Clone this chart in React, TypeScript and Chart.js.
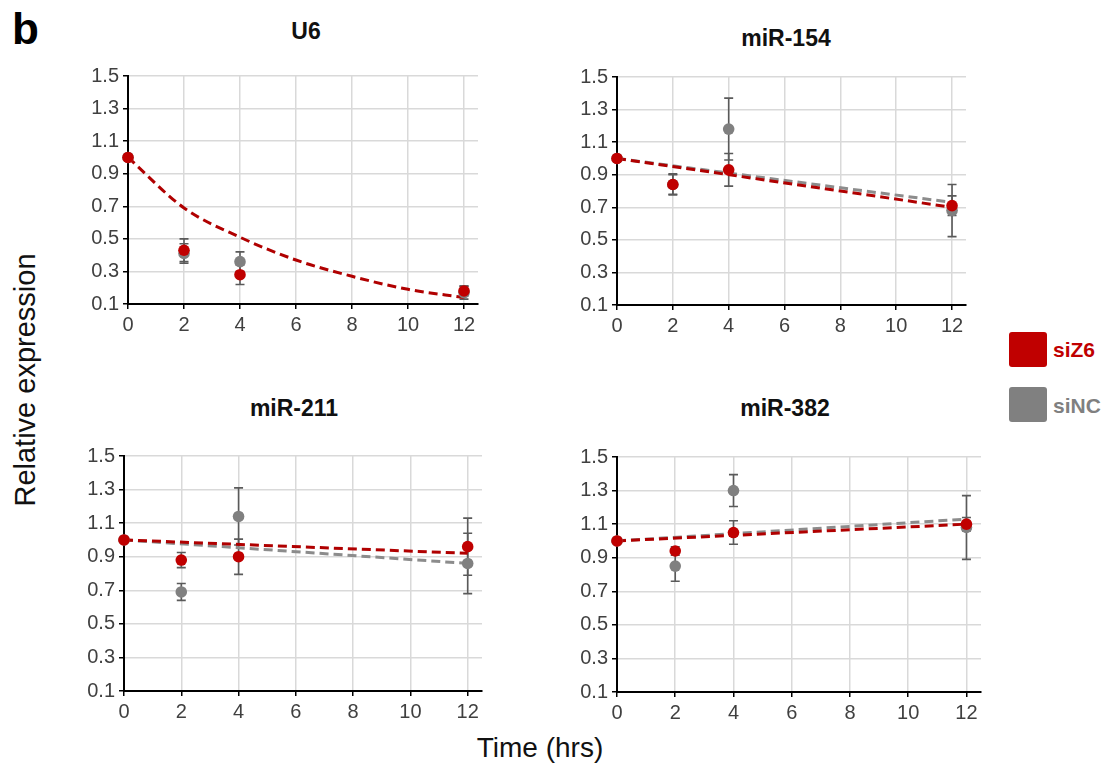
import React, { useEffect, useRef } from "react";
import { Chart, registerables } from "chart.js";
Chart.register(...registerables);

// ---------- data ----------
const times = [0, 2, 4, 12];
const xTicks = [0, 2, 4, 6, 8, 10, 12];
const yTicks = [0.1, 0.3, 0.5, 0.7, 0.9, 1.1, 1.3, 1.5];
const seriesNames = ["siZ6", "siNC"];
const panelTitles = ["U6", "miR-154", "miR-211", "miR-382"];

const u6SiZ6 = [1.0, 0.43, 0.28, 0.18];
const u6SiZ6Err = [0, 0.07, 0.06, 0.03];
const u6SiNC = [1.0, 0.41, 0.36, 0.17];
const u6SiNCErr = [0, 0.06, 0.06, 0.04];
const u6TrendX = [0, 2, 4, 6, 8, 10, 12];
const u6TrendSiZ6 = [1.0, 0.69, 0.51, 0.37, 0.27, 0.19, 0.14];
const u6TrendSiNC: number[] = [];

const m154SiZ6 = [1.0, 0.84, 0.93, 0.71];
const m154SiZ6Err = [0, 0.065, 0.1, 0.06];
const m154SiNC = [1.0, 0.84, 1.18, 0.68];
const m154SiNCErr = [0, 0.06, 0.19, 0.16];
const m154TrendX = [0, 12];
const m154TrendSiZ6 = [1.0, 0.7];
const m154TrendSiNC = [1.0, 0.73];

const m211SiZ6 = [1.0, 0.88, 0.9, 0.96];
const m211SiZ6Err = [0, 0.045, 0.105, 0.17];
const m211SiNC = [1.0, 0.69, 1.14, 0.86];
const m211SiNCErr = [0, 0.05, 0.17, 0.18];
const m211TrendX = [0, 12];
const m211TrendSiZ6 = [1.0, 0.92];
const m211TrendSiNC = [1.0, 0.86];

const m382SiZ6 = [1.0, 0.94, 1.05, 1.1];
const m382SiZ6Err = [0, 0.025, 0.07, 0.04];
const m382SiNC = [1.0, 0.85, 1.3, 1.08];
const m382SiNCErr = [0, 0.09, 0.095, 0.19];
const m382TrendX = [0, 12];
const m382TrendSiZ6 = [1.0, 1.1];
const m382TrendSiNC = [1.0, 1.13];

// ---------- styles / layout ----------
const FONT = "'Liberation Sans', Arial, Helvetica, sans-serif";
const RED = "#c00000";
const RED_TREND = "#b00000";
const GRAY = "#808080";
const GRAY_TREND = "#8c8c8c";
const ERR = "#5a5a5a";
const Y_W = 50;
const X_H = 40;
const PAD_T = 14;
const PAD_R = 12;

const panels = [
  { title: panelTitles[0], area: { left: 128, top: 74, w: 350, h: 230 }, titlePos: { x: 306, y: 31 },
    red: u6SiZ6, redErr: u6SiZ6Err, gray: u6SiNC, grayErr: u6SiNCErr, trendX: u6TrendX, trendRed: u6TrendSiZ6, trendGray: u6TrendSiNC, curved: true },
  { title: panelTitles[1], area: { left: 617, top: 75, w: 349, h: 230 }, titlePos: { x: 786, y: 38 },
    red: m154SiZ6, redErr: m154SiZ6Err, gray: m154SiNC, grayErr: m154SiNCErr, trendX: m154TrendX, trendRed: m154TrendSiZ6, trendGray: m154TrendSiNC, curved: false },
  { title: panelTitles[2], area: { left: 124, top: 454, w: 358, h: 237 }, titlePos: { x: 294, y: 408 },
    red: m211SiZ6, redErr: m211SiZ6Err, gray: m211SiNC, grayErr: m211SiNCErr, trendX: m211TrendX, trendRed: m211TrendSiZ6, trendGray: m211TrendSiNC, curved: false },
  { title: panelTitles[3], area: { left: 617, top: 455, w: 364, h: 237 }, titlePos: { x: 785, y: 408 },
    red: m382SiZ6, redErr: m382SiZ6Err, gray: m382SiNC, grayErr: m382SiNCErr, trendX: m382TrendX, trendRed: m382TrendSiZ6, trendGray: m382TrendSiNC, curved: false },
];

const errorBarPlugin = {
  id: "errorBars",
  beforeDatasetsDraw(chart: any) {
    const { ctx } = chart;
    const x = chart.scales.x;
    const y = chart.scales.y;
    chart.data.datasets.forEach((ds: any) => {
      if (!ds.errors) return;
      ds.data.forEach((p: any, j: number) => {
        const e = ds.errors[j];
        if (!e) return;
        const px = x.getPixelForValue(p.x);
        const top = y.getPixelForValue(p.y + e);
        const bot = y.getPixelForValue(p.y - e);
        ctx.save();
        ctx.strokeStyle = ERR;
        ctx.lineWidth = 1.6;
        ctx.beginPath();
        ctx.moveTo(px, top);
        ctx.lineTo(px, bot);
        ctx.moveTo(px - 4.5, top);
        ctx.lineTo(px + 4.5, top);
        ctx.moveTo(px - 4.5, bot);
        ctx.lineTo(px + 4.5, bot);
        ctx.stroke();
        ctx.restore();
      });
    });
  },
};

function Panel({ p }: { p: any }) {
  const ref = useRef<HTMLCanvasElement>(null);
  const W = Y_W + p.area.w + PAD_R;
  const H = PAD_T + p.area.h + X_H;
  useEffect(() => {
    if (!ref.current) return;
    const pts = (vals: number[]) => times.map((t, i) => ({ x: t, y: vals[i] }));
    const trend = (vals: number[]) => vals.map((v, i) => ({ x: p.trendX[i], y: v }));
    const tickFont = { family: FONT, size: 20 };
    const chart = new Chart(ref.current, {
      type: "scatter",
      data: {
        datasets: [
          { label: seriesNames[0], data: pts(p.red), errors: p.redErr, backgroundColor: RED, borderColor: RED, pointRadius: 5.8, borderWidth: 0, showLine: false, clip: false, order: 0 } as any,
          { label: seriesNames[1], data: pts(p.gray), errors: p.grayErr, backgroundColor: GRAY, borderColor: GRAY, pointRadius: 5.8, borderWidth: 0, showLine: false, clip: false, order: 1 } as any,
          { label: seriesNames[0] + " trend", data: trend(p.trendRed), showLine: true, borderColor: RED_TREND, borderWidth: 3, borderDash: [9, 5], pointRadius: 0, clip: false, cubicInterpolationMode: p.curved ? "monotone" : "default", order: 2 } as any,
          { label: seriesNames[1] + " trend", data: trend(p.trendGray), showLine: true, borderColor: GRAY_TREND, borderWidth: 3, borderDash: [9, 5], pointRadius: 0, clip: false, order: 3 } as any,
        ],
      },
      options: {
        animation: false,
        responsive: false,
        devicePixelRatio: 1,
        layout: { padding: { top: PAD_T, right: PAD_R, left: 0, bottom: 0 } },
        plugins: { legend: { display: false }, tooltip: { enabled: false }, title: { display: false } },
        scales: {
          x: {
            type: "linear",
            min: 0,
            max: 12.5,
            afterBuildTicks: (s: any) => { s.ticks = xTicks.map((v) => ({ value: v })); },
            afterFit: (s: any) => { s.height = X_H; },
            ticks: { font: tickFont, color: "#404040", padding: 4, maxRotation: 0, autoSkip: false, callback: (v: any) => String(v) },
            grid: { color: "#d9d9d9", lineWidth: 1.5, tickColor: "#000", tickLength: 5, tickWidth: 1.5 },
            border: { color: "#000", width: 2 },
          },
          y: {
            type: "linear",
            min: 0.1,
            max: 1.5,
            afterBuildTicks: (s: any) => { s.ticks = yTicks.map((v) => ({ value: v })); },
            afterFit: (s: any) => { s.width = Y_W; },
            ticks: { font: tickFont, color: "#404040", padding: 4, autoSkip: false, callback: (v: any) => Number(v).toFixed(1) },
            grid: { color: "#d9d9d9", lineWidth: 1.5, tickColor: "#000", tickLength: 5, tickWidth: 1.5 },
            border: { color: "#000", width: 2 },
          },
        },
      } as any,
      plugins: [errorBarPlugin],
    });
    return () => chart.destroy();
  }, []);
  return (
    <>
      <canvas
        ref={ref}
        width={W}
        height={H}
        style={{ position: "absolute", left: p.area.left - Y_W, top: p.area.top - PAD_T, width: W, height: H }}
      />
      <div style={centered(p.titlePos.x, p.titlePos.y, { fontSize: 23, fontWeight: "bold", color: "#111" })}>{p.title}</div>
    </>
  );
}

function centered(x: number, y: number, extra: any): any {
  return {
    position: "absolute",
    left: x,
    top: y,
    transform: "translate(-50%, -50%)",
    lineHeight: 1,
    whiteSpace: "nowrap",
    ...extra,
  };
}

export default function App() {
  return (
    <div style={{ position: "absolute", left: 0, top: 0, width: 1104, height: 768, background: "#fff", fontFamily: FONT, overflow: "hidden" }}>
      <div style={{ position: "absolute", left: 12, top: 7, fontSize: 44, fontWeight: "bold", lineHeight: 1, color: "#000" }}>b</div>
      {panels.map((p, i) => (
        <Panel key={i} p={p} />
      ))}
      <div style={centered(540, 748, { fontSize: 28, color: "#111" })}>Time (hrs)</div>
      <div style={{ ...centered(25, 380, { fontSize: 29, color: "#111" }), transform: "translate(-50%, -50%) rotate(-90deg)" }}>Relative expression</div>
      <div style={{ position: "absolute", left: 1009, top: 332, width: 38, height: 35, background: RED, borderRadius: 3 }} />
      <div style={{ position: "absolute", left: 1053, top: 349, transform: "translateY(-50%)", lineHeight: 1, fontSize: 21, fontWeight: "bold", color: RED }}>{seriesNames[0]}</div>
      <div style={{ position: "absolute", left: 1009, top: 387, width: 38, height: 35, background: GRAY, borderRadius: 3 }} />
      <div style={{ position: "absolute", left: 1053, top: 405, transform: "translateY(-50%)", lineHeight: 1, fontSize: 21, fontWeight: "bold", color: GRAY }}>{seriesNames[1]}</div>
    </div>
  );
}
